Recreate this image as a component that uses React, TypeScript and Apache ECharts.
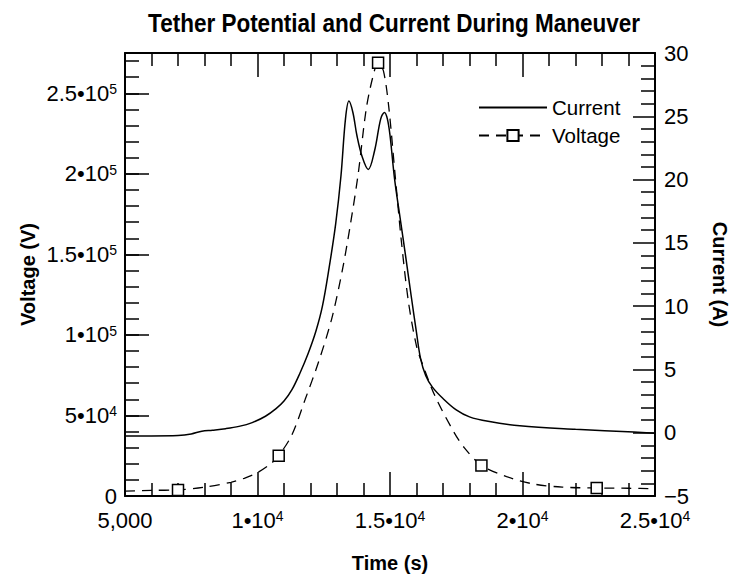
import { useEffect, useRef } from 'react';
import * as echarts from 'echarts';

const FONT = "'Liberation Sans', Arial, sans-serif";

const chartTitle = 'Tether Potential and Current During Maneuver';
const xName = 'Time (s)';
const leftName = 'Voltage (V)';
const rightName = 'Current (A)';
const seriesNames = ['Current', 'Voltage'];

// Current (A), right axis
const currentTime = [5000, 6000, 7000, 7500, 7900, 8300, 8800, 9300, 9800, 10300, 10700, 11000, 11300, 11600, 11900, 12200, 12450, 12700, 12950, 13150, 13320, 13450, 13600, 13750, 13950, 14180, 14420, 14650, 14790, 14900, 15000, 15170, 15400, 15600, 15800, 16000, 16150, 16350, 16600, 17000, 17500, 18000, 18700, 19900, 22000, 24200, 25000];
const currentAmps = [-0.25, -0.25, -0.22, -0.1, 0.12, 0.2, 0.32, 0.5, 0.8, 1.3, 1.9, 2.5, 3.4, 4.7, 6.2, 8.0, 10.0, 13.0, 16.5, 20.3, 24.8, 26.2, 25.3, 23.5, 21.8, 20.8, 22.3, 24.8, 25.3, 24.8, 23.5, 20.1, 16.7, 13.8, 10.8, 7.9, 5.9, 4.5, 3.6, 2.7, 1.8, 1.25, 0.9, 0.55, 0.27, 0.05, -0.05];

// Voltage (V), left axis
const voltageTime = [5000, 6000, 7000, 8000, 9000, 9500, 10000, 10500, 10800, 11300, 11800, 12300, 12800, 13200, 13500, 13800, 14100, 14350, 14550, 14750, 14950, 15200, 15430, 15700, 16000, 16200, 16700, 17400, 17800, 18450, 19400, 20400, 21500, 22800, 24000, 25000];
const voltageVolts = [3000, 3500, 3800, 5500, 8500, 11000, 14500, 20000, 25000, 38000, 60000, 83000, 110000, 140000, 168000, 200000, 240000, 260000, 269000, 264000, 242000, 198000, 158000, 120000, 93000, 83000, 62000, 40000, 30000, 19000, 12000, 7500, 5500, 5000, 4800, 4500];
const voltageMarkerTimes = [7000, 10800, 14550, 18450, 22800];

// Axis ranges / ticks
const timeMin = 5000;
const timeMax = 25000;
const timeStep = 5000;
const voltMin = 0;
const voltMax = 275000;
const voltStep = 50000;
const voltMinorStep = 10000;
const ampMin = -5;
const ampMax = 30;
const ampStep = 5;

function sci(v: number): string {
  if (v === 0) return '{n|0}';
  const e = Math.floor(Math.log10(v) + 1e-9);
  const m = +(v / Math.pow(10, e)).toFixed(2);
  return `{n|${m}•10}{s|${e}}`;
}

const rich = {
  n: { fontSize: 22, fontFamily: FONT, color: '#000', verticalAlign: 'bottom' },
  s: { fontSize: 14, fontFamily: FONT, color: '#000', verticalAlign: 'top' },
};

const nameStyle = { fontFamily: FONT, fontWeight: 'bold', fontSize: 20, color: '#000' };
const lineW = 2;
const tickStyle = { color: '#000', width: 1.5 };

export default function App() {
  const ref = useRef<HTMLDivElement>(null);
  useEffect(() => {
    const chart = echarts.init(ref.current!, null, { renderer: 'svg' });
    const currentData = currentTime.map((t, i) => [t, currentAmps[i]]);
    const voltageData = voltageTime.map((t, i) =>
      voltageMarkerTimes.includes(t) ? [t, voltageVolts[i]] : { value: [t, voltageVolts[i]], symbol: 'none' }
    );
    const xCommon = {
      type: 'value',
      min: timeMin,
      max: timeMax,
      interval: timeStep,
      splitLine: { show: false },
      axisLine: { show: true, onZero: false, lineStyle: { color: '#000', width: lineW } },
      axisTick: { show: true, inside: true, length: 24, lineStyle: tickStyle },
      minorTick: { show: true, splitNumber: 5, length: 13, lineStyle: tickStyle },
    };
    chart.setOption({
      animation: false,
      backgroundColor: '#fff',
      grid: { left: 125, right: 79, top: 53, bottom: 77, containLabel: false },
      graphic: [
        {
          type: 'text',
          x: 394,
          y: 23,
          scaleX: 0.9,
          style: {
            text: chartTitle,
            font: `bold 25px ${FONT}`,
            fill: '#000',
            align: 'center',
            verticalAlign: 'middle',
            textAlign: 'center',
            textVerticalAlign: 'middle',
          },
        },
      ],
      legend: {
        orient: 'vertical',
        left: 473,
        top: 92,
        itemWidth: 68,
        itemHeight: 14,
        itemGap: 7,
        data: [
          { name: seriesNames[0], itemStyle: { color: 'rgba(0,0,0,0)', borderColor: 'rgba(0,0,0,0)', borderWidth: 0, opacity: 0 } },
          seriesNames[1],
        ],
        textStyle: { fontFamily: FONT, fontSize: 20.5, color: '#000' },
      },
      xAxis: [
        {
          ...xCommon,
          position: 'bottom',
          name: xName,
          nameLocation: 'middle',
          nameGap: 57,
          nameTextStyle: nameStyle,
          axisLabel: {
            margin: 13,
            formatter: (v: number) => (v === 5000 ? '{n|5,000}' : sci(v)),
            rich,
          },
        },
        {
          ...xCommon,
          position: 'top',
          axisLabel: { show: false },
        },
      ],
      yAxis: [
        {
          type: 'value',
          min: voltMin,
          max: voltMax,
          position: 'left',
          splitLine: { show: false },
          axisLine: { show: true, onZero: false, lineStyle: { color: '#000', width: lineW } },
          axisTick: { show: false },
          axisLabel: { show: false },
          name: leftName,
          nameLocation: 'middle',
          nameGap: 87,
          nameRotate: 90,
          nameTextStyle: nameStyle,
        },
        {
          type: 'value',
          min: ampMin,
          max: ampMax,
          interval: ampStep,
          position: 'right',
          splitLine: { show: false },
          axisLine: { show: true, onZero: false, lineStyle: { color: '#000', width: lineW } },
          axisTick: { show: true, inside: true, length: 22, lineStyle: tickStyle },
          minorTick: { show: true, splitNumber: 5, length: 14, lineStyle: tickStyle },
          axisLabel: {
            margin: 9,
            formatter: (v: number) => (v < 0 ? '−' + Math.abs(v) : String(v)),
            fontFamily: FONT,
            fontSize: 22,
            color: '#000',
          },
          name: rightName,
          nameLocation: 'middle',
          nameGap: 55,
          nameRotate: -90,
          nameTextStyle: nameStyle,
        },
        {
          type: 'value',
          min: voltMin,
          max: voltMax,
          interval: voltStep,
          position: 'left',
          splitLine: { show: false },
          axisLine: { show: false, onZero: false },
          axisTick: { show: true, inside: true, length: 24, lineStyle: tickStyle },
          axisLabel: {
            margin: 8,
            showMaxLabel: false,
            formatter: (v: number) => (v % voltStep === 0 ? sci(v) : ''),
            rich,
          },
        },
        {
          type: 'value',
          min: voltMin,
          max: voltMax,
          interval: voltMinorStep,
          position: 'left',
          splitLine: { show: false },
          axisLine: { show: false, onZero: false },
          axisTick: { show: true, inside: true, length: 14, lineStyle: tickStyle },
          axisLabel: { show: false },
        },
      ],
      series: [
        {
          name: seriesNames[0],
          type: 'line',
          xAxisIndex: 0,
          yAxisIndex: 1,
          data: currentData,
          symbol: 'none',
          smooth: 0.35,
          lineStyle: { color: '#000', width: 1.5 },
          itemStyle: { color: '#000' },
          z: 3,
        },
        {
          name: seriesNames[1],
          type: 'line',
          xAxisIndex: 0,
          yAxisIndex: 0,
          data: voltageData,
          symbol: 'rect',
          symbolSize: 11,
          showSymbol: true,
          smooth: 0.3,
          lineStyle: { color: '#000', width: 1.3, type: [10, 7] },
          itemStyle: { color: '#fff', borderColor: '#000', borderWidth: 1.5 },
          z: 4,
        },
      ],
    });
    return () => chart.dispose();
  }, []);
  return <div ref={ref} style={{ position: 'fixed', left: 0, top: 0, width: 738, height: 578 }} />;
}
